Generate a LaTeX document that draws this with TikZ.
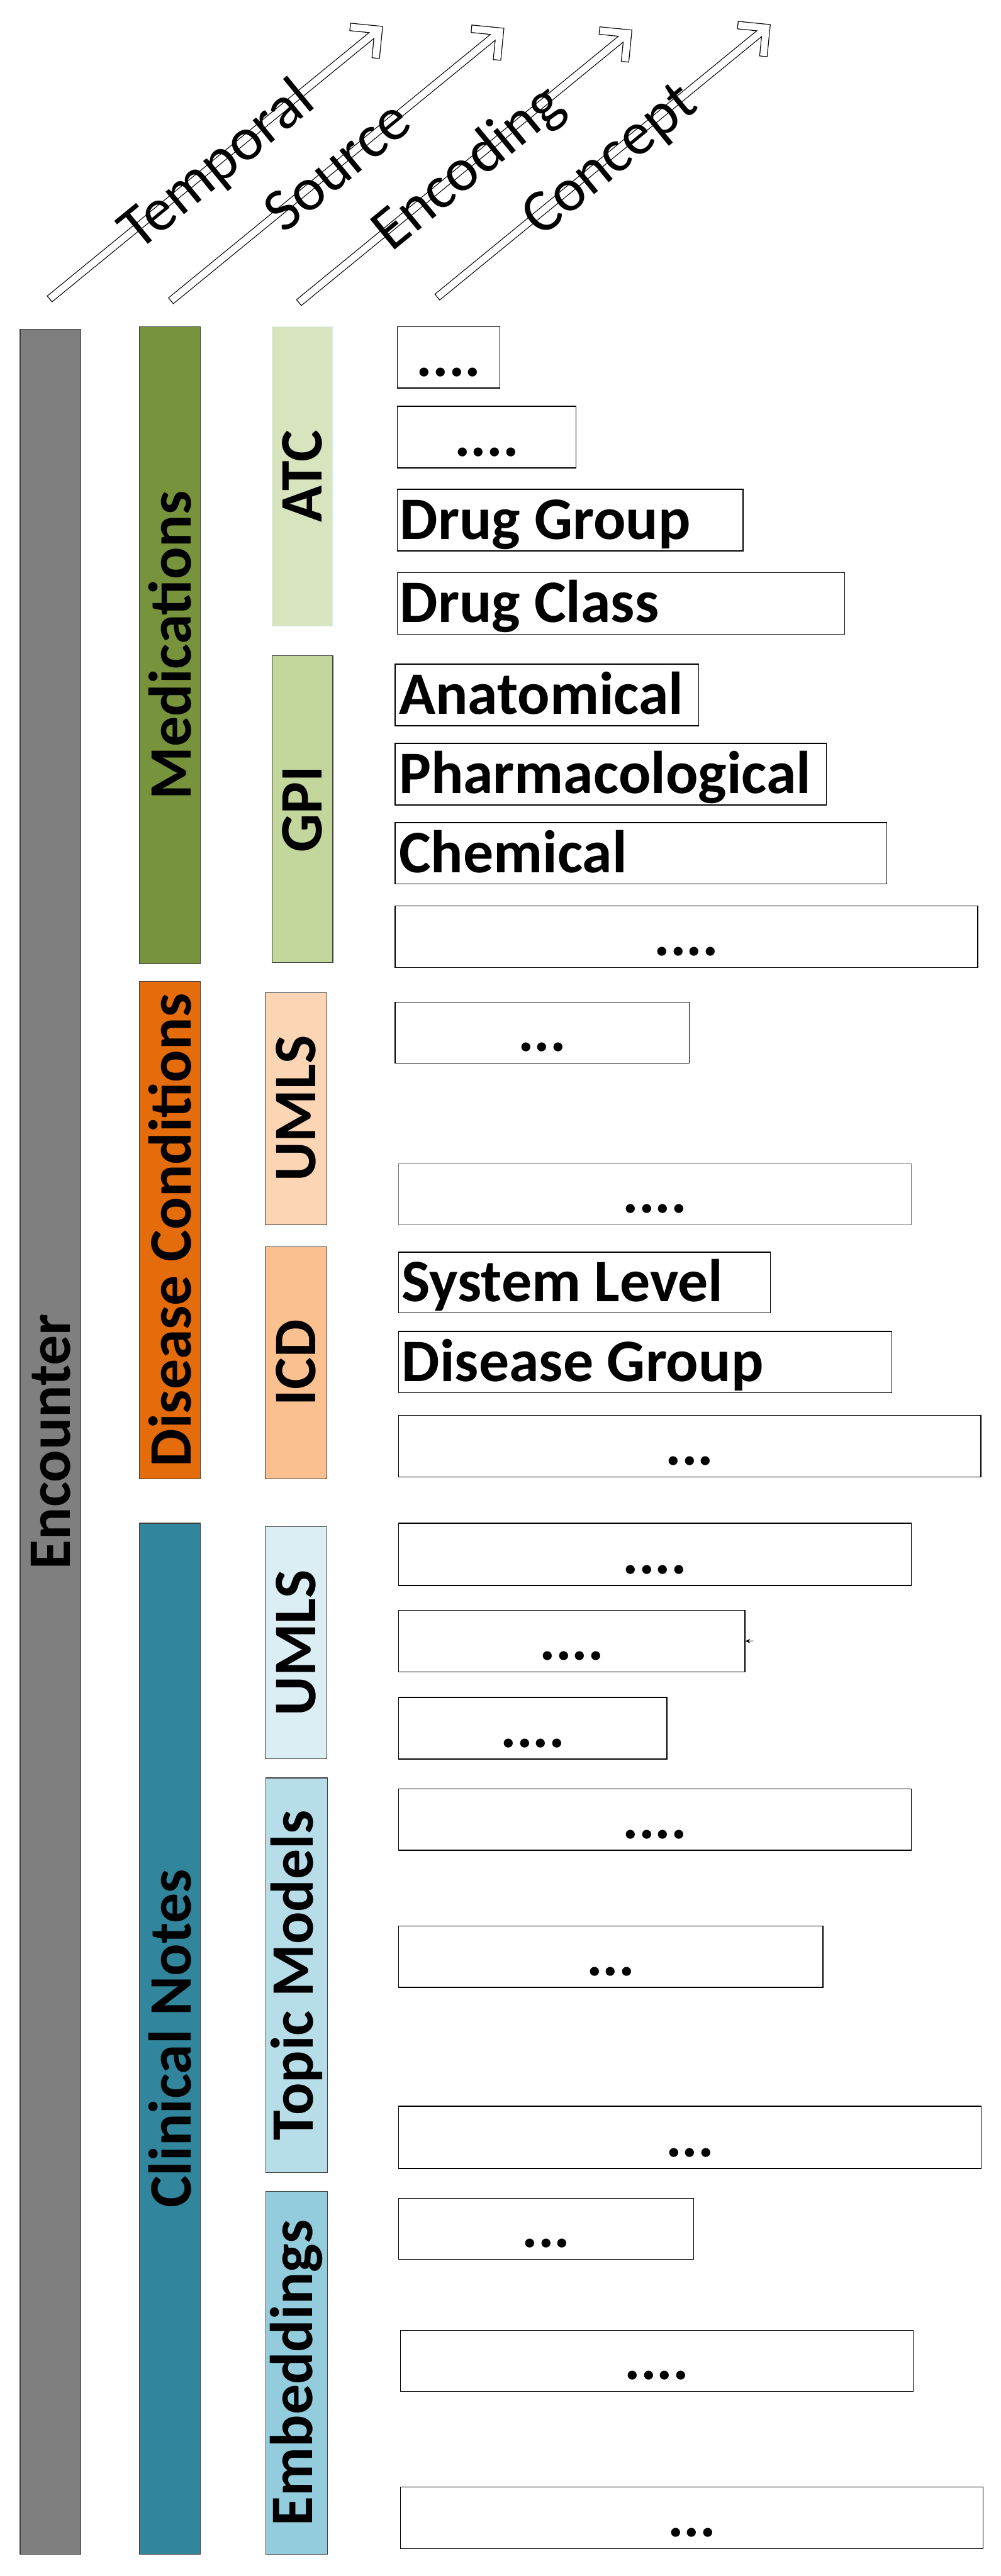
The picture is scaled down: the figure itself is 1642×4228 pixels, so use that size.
\documentclass[tikz,border=0pt]{standalone}
\usepackage{fontspec}
\setmainfont{Carlito}
\usetikzlibrary{fit,arrows.meta}
\definecolor{cEnc}{HTML}{7F7F7F}
\definecolor{cMed}{HTML}{77933C}
\definecolor{cAtc}{HTML}{D7E4BD}
\definecolor{cAtcB}{HTML}{DAEEF3}
\definecolor{cGpi}{HTML}{C3D69B}
\definecolor{cDis}{HTML}{E46C0A}
\definecolor{cUmA}{HTML}{FCD5B5}
\definecolor{cIcd}{HTML}{FAC090}
\definecolor{cCn}{HTML}{31859C}
\definecolor{cUmB}{HTML}{DBEEF4}
\definecolor{cTop}{HTML}{B7DEE8}
\definecolor{cEmb}{HTML}{93CDDD}
\newcommand\AxArrow[5]{%
\begin{scope}[shift={(#1,#2)}, rotate=39.31]
  \draw[line width=13.5bp, line join=miter, line cap=butt] (0,0) -- (698,0) (664.5,33.5) -- (698,0) -- (664.5,-33.5);
  \draw[white, line width=11bp, line join=miter, line cap=butt, shorten <=1.3bp] (0,0) -- (698,0);
  \draw[white, line width=11bp, line join=miter, line cap=butt, shorten <=1.3bp, shorten >=1.3bp] (664.5,33.5) -- (698,0) -- (664.5,-33.5);
  \node[axt] (#3) at (#5,33) {#4};
\end{scope}}
\begin{document}
\begin{tikzpicture}[x=1bp,y=-1bp,
  bar/.style={draw=black!75, line width=1.2bp, inner sep=0pt},
  cbox/.style={draw=black, line width=1.5bp, fill=white, inner sep=0pt},
  lbl/.style={font=\fontsize{99bp}{110bp}\selectfont\bfseries, inner sep=0pt},
  wordt/.style={lbl, anchor=base west},
  dott/.style={lbl, anchor=base},
  vlab/.style={lbl, rotate=90},
  axt/.style={font=\fontsize{100bp}{110bp}\selectfont, inner sep=0pt, anchor=base, rotate=39.31}
]
\useasboundingbox[fill=white] (0,0) rectangle (1642,4228);

% axis arrows
\AxArrow{81}{491}{aTemp}{Temporal}{352}
\AxArrow{280}{494}{aSrc}{Source}{352}
\AxArrow{490}{497}{aEnc}{Encoding}{356}
\AxArrow{717}{488}{aCon}{Concept}{362}

% temporal bar
\node[bar, fill=cEnc, fit={(33,540) (133,4192)}] (enc) {};
\node[vlab] (lenc) at (enc) {Encounter};

% source bars
\node[bar, fill=cMed, fit={(229,536) (329,1582)}] (med) {};
\node[vlab] (lmed) at (med) {Medications};
\node[bar, fill=cDis, fit={(229,1611) (329,2427)}] (dis) {};
\node[vlab] (ldis) at (dis) {Disease Conditions};
\node[bar, fill=cCn, fit={(229,2500) (329,4192)}] (cn) {};
\node[vlab] (lcn) at (cn) {Clinical Notes};

% encoding bars
\node[bar, draw=cAtcB, fill=cAtc, fit={(446,536) (546,1028)}] (atc) {};
\node[vlab] (latc) at (atc) {ATC};
\node[bar, fill=cGpi, fit={(446,1076) (546,1580)}] (gpi) {};
\node[vlab] (lgpi) at (gpi) {GPI};
\node[bar, fill=cUmA, fit={(435,1629) (536,2010)}] (umA) {};
\node[vlab] (lumA) at (umA) {UMLS};
\node[bar, fill=cIcd, fit={(435,2046) (536,2427)}] (icd) {};
\node[vlab] (licd) at (icd) {ICD};
\node[bar, fill=cUmB, fit={(435,2506) (536,2887)}] (umB) {};
\node[vlab] (lumB) at (umB) {UMLS};
\node[bar, fill=cTop, fit={(436,2918) (537,3566)}] (top) {};
\node[vlab] (ltop) at (top) {Topic Models};
\node[bar, fill=cEmb, fit={(436,3597) (537,4192)}] (emb) {};
\node[vlab] (lemb) at (emb) {Embeddings};

% concept boxes
\node[cbox, fit={(652,536) (820,637)}] (b1) {};
\node[dott] (t1) at ([yshift=20bp]b1.south) {....};
\node[cbox, fit={(652,667) (945,768)}] (b2) {};
\node[dott] (t2) at ([yshift=20bp]b2.south) {....};
\node[cbox, fit={(652,803) (1219,904)}] (b3) {};
\node[wordt] (t3) at ([xshift=5bp,yshift=20bp]b3.south west) {Drug Group};
\node[cbox, fit={(652,940) (1386,1041)}] (b4) {};
\node[wordt] (t4) at ([xshift=5bp,yshift=20bp]b4.south west) {Drug Class};
\node[cbox, fit={(648,1090) (1146,1191)}] (b5) {};
\node[wordt] (t5) at ([xshift=7bp,yshift=20bp]b5.south west) {Anatomical};
\node[cbox, fit={(648,1220) (1356,1321)}] (b6) {};
\node[wordt] (t6) at ([xshift=7bp,yshift=20bp]b6.south west) {Pharmacological};
\node[cbox, fit={(648,1350) (1455,1451)}] (b7) {};
\node[wordt] (t7) at ([xshift=7bp,yshift=20bp]b7.south west) {Chemical};
\node[cbox, fit={(648,1487) (1604,1588)}] (b8) {};
\node[dott] (t8) at ([yshift=20bp]b8.south) {....};

\node[cbox, fit={(648,1645) (1131,1745)}] (b9) {};
\node[dott] (t9) at ([yshift=20bp]b9.south) {...};
\node[cbox, draw=black!55, fit={(654,1910) (1495,2010)}] (b10) {};
\node[dott] (t10) at ([yshift=20bp]b10.south) {....};
\node[cbox, fit={(654,2055) (1264,2155)}] (b11) {};
\node[wordt] (t11) at ([xshift=6bp,yshift=20bp]b11.south west) {System Level};
\node[cbox, fit={(654,2185) (1463,2286)}] (b12) {};
\node[wordt] (t12) at ([xshift=6bp,yshift=20bp]b12.south west) {Disease Group};
\node[cbox, fit={(654,2323) (1609,2424)}] (b13) {};
\node[dott] (t13) at ([yshift=20bp]b13.south) {...};

\node[cbox, fit={(654,2500) (1495,2602)}] (b14) {};
\node[dott] (t14) at ([yshift=20bp]b14.south) {....};
\node[cbox, fit={(654,2643) (1222,2744)}] (b15) {};
\node[dott] (t15) at ([yshift=20bp]b15.south) {....};
\node[cbox, fit={(654,2786) (1094,2887)}] (b16) {};
\node[dott] (t16) at ([yshift=20bp]b16.south) {....};
\node[cbox, fit={(654,2936) (1495,3037)}] (b17) {};
\node[dott] (t17) at ([yshift=20bp]b17.south) {....};
\node[cbox, fit={(654,3161) (1350,3262)}] (b18) {};
\node[dott] (t18) at ([yshift=20bp]b18.south) {...};
\node[cbox, fit={(654,3457) (1610,3559)}] (b19) {};
\node[dott] (t19) at ([yshift=20bp]b19.south) {...};
\node[cbox, fit={(654,3608) (1138,3708)}] (b20) {};
\node[dott] (t20) at ([yshift=20bp]b20.south) {...};
\node[cbox, fit={(657,3825) (1498,3925)}] (b21) {};
\node[dott] (t21) at ([yshift=20bp]b21.south) {....};
\node[cbox, fit={(657,4082) (1613,4183)}] (b22) {};
\node[dott] (t22) at ([yshift=20bp]b22.south) {...};

% tiny stray arrow tip
\coordinate (tk) at (1236,2693.5);
\draw[draw=black!50, line width=1.5bp, -{Stealth[length=8bp,width=7bp,black]}] (tk) -- (b15.east);
\end{tikzpicture}
\end{document}
